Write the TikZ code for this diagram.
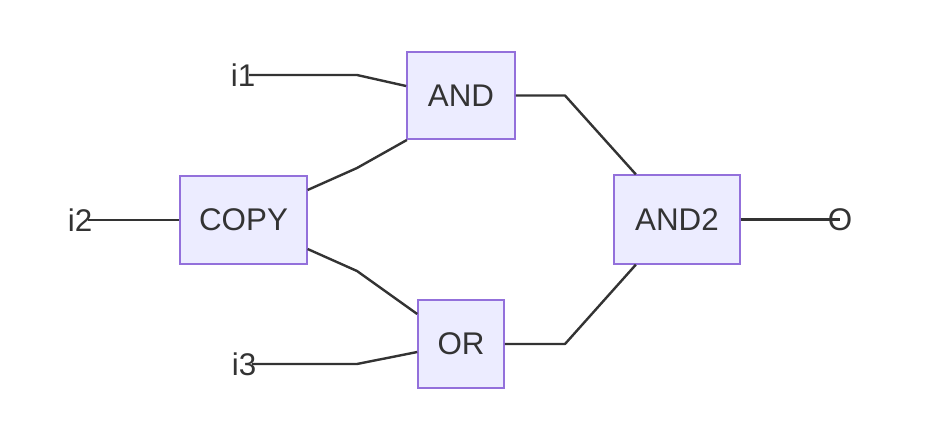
\documentclass[tikz,border=0pt]{standalone}
\usepackage{fontspec}
\setmainfont{Liberation Sans}
\definecolor{txt}{HTML}{333333}
\definecolor{boxfill}{HTML}{ECECFF}
\definecolor{boxline}{HTML}{9370DB}
\begin{document}
\begin{tikzpicture}[x=0.75pt,y=-0.75pt,
  gate/.style={draw=boxline,fill=boxfill,line width=1.2pt,inner sep=0pt,anchor=center,
    text=txt,font=\fontsize{23.5}{28}\selectfont},
  lbl/.style={inner sep=0pt,text=txt,font=\fontsize{23.5}{28}\selectfont},
  wire/.style={draw=txt,line width=1.8pt,line join=round}]
\useasboundingbox (0,0) rectangle (932,440);
% labels
\node[lbl] (i1) at (243,75) {i1};
\node[lbl] (i2) at (80,220) {i2};
\node[lbl] (i3) at (244,364) {i3};
\node[lbl] (o) at (840,219.5) {O};
% gates
\node[gate,minimum width=81pt,minimum height=65.5pt] (and) at (461,95.5) {AND};
\node[gate,minimum width=95pt,minimum height=66pt] (copy) at (243.5,220) {COPY};
\node[gate,minimum width=64.5pt,minimum height=66pt] (or) at (461,344) {OR};
\node[gate,minimum width=94.5pt,minimum height=66.5pt] (and2) at (677,219.5) {AND2};
% wires
\draw[wire] ([xshift=4.5pt]i1.center) -- (357,75) -- ([yshift=7.1pt]and.west);
\draw[wire] ([xshift=6pt]i2.center) -- (copy.west);
\draw[wire] ([xshift=6pt]i3.center) -- (357,364) -- ([yshift=-6pt]or.west);
\draw[wire] ([yshift=22.5pt]copy.east) -- (357,168) -- ([xshift=0.5pt]and.south west);
\draw[wire] ([yshift=-21.75pt]copy.east) -- (357,271) -- ([yshift=22.5pt]or.west);
\draw[wire] (and.east) -- (565,95.5) -- ([xshift=17pt]and2.north west);
\draw[wire] (or.east) -- (565,344) -- ([xshift=17pt]and2.south west);
\draw[wire] (and2.east) -- (o.center);
\end{tikzpicture}
\end{document}
